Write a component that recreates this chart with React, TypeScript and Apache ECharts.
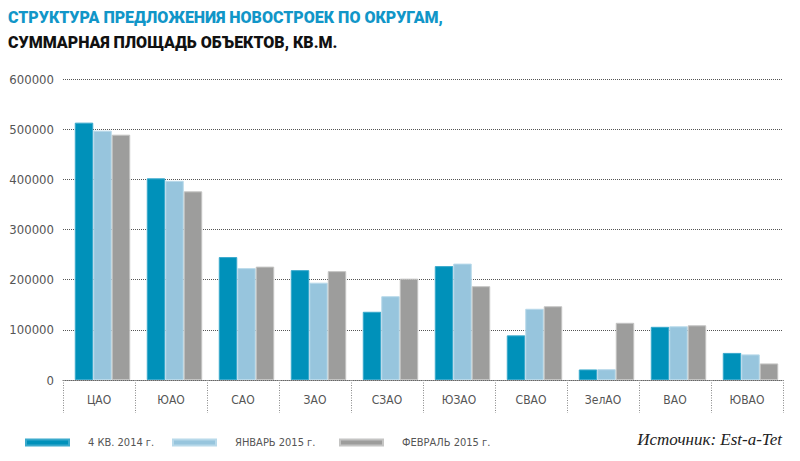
import React, { useEffect, useRef } from "react";
import * as echarts from "echarts";

const titleLine1 = "СТРУКТУРА ПРЕДЛОЖЕНИЯ НОВОСТРОЕК ПО ОКРУГАМ,";
const titleLine2 = "СУММАРНАЯ ПЛОЩАДЬ ОБЪЕКТОВ, КВ.М.";
const sourceText = "Источник: Est-a-Tet";

const categories = ["ЦАО", "ЮАО", "САО", "ЗАО", "СЗАО", "ЮЗАО", "СВАО", "ЗелАО", "ВАО", "ЮВАО"];
const seriesNames = ["4 КВ. 2014 г.", "ЯНВАРЬ 2015 г.", "ФЕВРАЛЬ 2015 г."];
const q4_2014 = [513000, 402000, 245000, 219000, 136000, 227000, 89000, 21000, 106000, 54000];
const jan2015 = [497000, 397000, 223000, 194000, 167000, 232000, 142000, 21500, 107000, 51000];
const feb2015 = [489000, 376000, 226000, 217000, 202000, 187000, 147000, 114000, 109000, 33000];

const colors = ["#0091ba", "#97c5dd", "#9d9d9c"];
const borders = ["#3aa9cc", "#b8d9ea", "#c4c4c3"];
const legendLefts = [25, 172, 339];

export default function App() {
  const ref = useRef<HTMLDivElement>(null);
  useEffect(() => {
    if (!ref.current) return;
    const chart = echarts.init(ref.current, null, { renderer: "svg" });
    const data = [q4_2014, jan2015, feb2015];
    const titleFont = "Roboto, sans-serif";
    const axisFont = "DejaVu Sans Condensed";
    chart.setOption({
      animation: false,
      backgroundColor: "#ffffff",
      title: [
        {
          text: titleLine1,
          left: 8,
          top: 7,
          padding: 0,
          textStyle: { color: "#1196c8", fontFamily: titleFont, fontWeight: 900, fontSize: 16, lineHeight: 20 },
        },
        {
          text: titleLine2,
          left: 8,
          top: 32,
          padding: 0,
          textStyle: { color: "#111111", fontFamily: titleFont, fontWeight: 900, fontSize: 16, lineHeight: 20 },
        },
      ],
      legend: seriesNames.map((name, i) => ({
        left: legendLefts[i],
        top: 437,
        padding: 0,
        icon: "rect",
        itemWidth: 43,
        itemHeight: 6,
        data: [name],
        textStyle: {
          color: "#555555",
          fontFamily: axisFont,
          fontSize: 11,
          padding: [0, 0, 0, 14],
        },
      })),
      grid: [
        { left: 63, right: 17, top: 79, bottom: 81, containLabel: false },
        { left: 66.5, right: 13.5, top: 79, bottom: 81, containLabel: false },
      ],
      xAxis: [
        {
          type: "category",
          gridIndex: 0,
          data: categories,
          axisLine: { show: true, lineStyle: { color: "#666666", type: [1, 1], width: 1 } },
          axisTick: { show: true, length: 33, lineStyle: { color: "#888888", type: [1, 1.5], width: 1 } },
          axisLabel: {
            color: "#555555",
            fontFamily: axisFont,
            fontSize: 12,
            margin: 14,
          },
        },
        {
          type: "category",
          gridIndex: 1,
          data: categories,
          show: false,
        },
      ],
      yAxis: [
        {
          type: "value",
          gridIndex: 0,
          min: 0,
          max: 600000,
          interval: 100000,
          axisLine: { show: false },
          axisTick: { show: false },
          axisLabel: {
            color: "#555555",
            fontFamily: axisFont,
            fontSize: 13,
            margin: 9,
            formatter: (v: number) => String(v),
          },
          splitLine: { show: true, lineStyle: { color: "#555555", type: [1, 1], width: 1 } },
        },
        {
          type: "value",
          gridIndex: 1,
          min: 0,
          max: 600000,
          interval: 100000,
          show: false,
          splitLine: { show: false },
        },
      ],
      series: data.map((d, i) => ({
        type: "bar",
        name: seriesNames[i],
        data: d,
        xAxisIndex: 1,
        yAxisIndex: 1,
        barGap: "0%",
        barCategoryGap: "23%",
        itemStyle: { color: colors[i], borderColor: borders[i], borderWidth: 1 },
      })),
      graphic: [
        {
          type: "text",
          right: 18,
          top: 431,
          style: {
            text: sourceText,
            fill: "#222222",
            font: "italic 17px 'Liberation Serif'",
          },
        },
      ],
    });
    return () => chart.dispose();
  }, []);
  return (
    <div
      ref={ref}
      style={{ position: "fixed", left: 0, top: 0, width: 800, height: 461 }}
    />
  );
}
